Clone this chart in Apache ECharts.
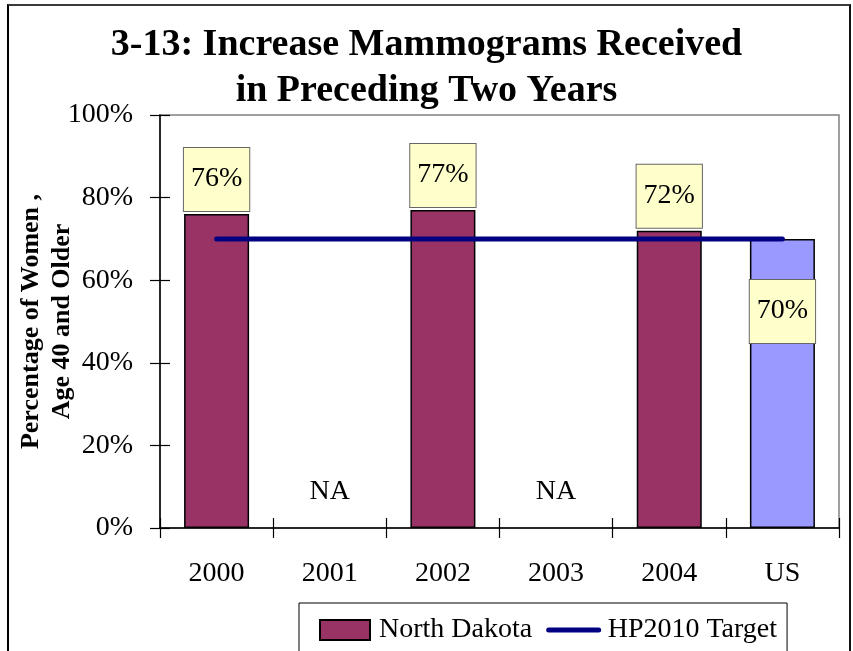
<!DOCTYPE html>
<html><head><meta charset="utf-8">
<script src="https://cdn.jsdelivr.net/npm/echarts@6/dist/echarts.min.js"></script>
<style>
html,body{margin:0;padding:0;background:#fff;}
#c{width:853px;height:651px;position:absolute;left:0;top:0;}
#frame{position:absolute;left:7px;top:4px;width:840px;height:700px;border-left:2px solid #000;border-top:2px solid #3a3a3a;border-right:2px solid #111;pointer-events:none;}
</style></head><body>
<div id="c"></div><div id="frame"></div>
<script>
const categories = ['2000', '2001', '2002', '2003', '2004', 'US'];
const northDakota = [76, null, 77, null, 72, 70];
const hp2010Target = [70, 70, 70, 70, 70, 70];
const yMin = 0, yMax = 100, yStep = 20;
const titleLines = ['3-13: Increase Mammograms Received', 'in Preceding Two Years'];
const yName = ['Percentage of Women ,', 'Age 40 and Older'];

const FONT = '"Liberation Serif", "Times New Roman", serif';

const barData = northDakota.map((v, i) => {
  if (v === null) {
    return { value: 0, itemStyle: { borderWidth: 0 },
      label: { formatter: 'NA', position: 'top', distance: 19, backgroundColor: 'transparent',
               borderWidth: 0, padding: 0 } };
  }
  if (categories[i] === 'US') {
    return { value: v, itemStyle: { color: '#9999FF' }, label: { position: 'insideTop', distance: 41 } };
  }
  return v;
});

const chart = echarts.init(document.getElementById('c'), null, { renderer: 'canvas' });
chart.setOption({
  backgroundColor: '#fff',
  animation: false,
  title: {
    text: titleLines.join('\n'),
    left: 'center', top: 22, padding: [0, 0, 0, 9],
    textStyle: { fontFamily: FONT, fontWeight: 'bold', fontSize: 38, lineHeight: 46, color: '#000' }
  },
  grid: { left: 160, right: 14, top: 115, bottom: 123, show: true, borderColor: '#808080', borderWidth: 1.5,
          backgroundColor: 'transparent', containLabel: false, outerBoundsMode: 'none' },
  legend: {
    left: 299, top: 603,
    data: [
      { name: 'North Dakota', icon: 'rect' },
      { name: 'HP2010 Target', itemStyle: { opacity: 0 }, lineStyle: { width: 5, color: '#000080', cap: 'round' } }
    ],
    itemWidth: 50, itemHeight: 20, itemGap: 14,
    padding: [12, 10, 30, 20],
    borderColor: '#000', borderWidth: 1,
    textStyle: { fontFamily: FONT, fontSize: 28, color: '#000', lineHeight: 30, padding: [0, 0, 0, 4] }
  },
  xAxis: [{
    type: 'category', data: categories, position: 'bottom',
    axisLine: { lineStyle: { color: '#000', width: 1.5 } },
    axisTick: { show: true, length: 10, lineStyle: { color: '#000', width: 1.2 } },
    axisLabel: { fontFamily: FONT, fontSize: 28, color: '#000', margin: 32 }
  }, {
    type: 'category', data: categories, position: 'bottom',
    axisLine: { show: false },
    axisTick: { show: true, inside: true, length: 10, lineStyle: { color: '#000', width: 1.2 } },
    axisLabel: { show: false }, splitLine: { show: false }
  }],
  yAxis: [{
    type: 'value', min: yMin, max: yMax, interval: yStep, position: 'left',
    name: yName.join('\n'), nameLocation: 'middle', nameRotate: 90, nameGap: 82, nameMoveOverlap: false,
    nameTextStyle: { fontFamily: FONT, fontWeight: 'bold', fontSize: 26, lineHeight: 31, color: '#000' },
    axisLine: { show: true, lineStyle: { color: '#000', width: 1.5 } },
    axisTick: { show: true, length: 10, lineStyle: { color: '#000', width: 1.2 } },
    axisLabel: { fontFamily: FONT, fontSize: 28, color: '#000', margin: 27, formatter: '{value}%' },
    splitLine: { show: false }
  }, {
    type: 'value', min: yMin, max: yMax, interval: yStep, position: 'left',
    axisLine: { show: false },
    axisTick: { show: true, inside: true, length: 10, lineStyle: { color: '#000', width: 1.2 } },
    axisLabel: { show: false }, splitLine: { show: false }
  }],
  series: [{
    name: 'North Dakota', type: 'bar', data: barData, barWidth: 65,
    xAxisIndex: 0, yAxisIndex: 0,
    itemStyle: { color: '#993366', borderColor: '#000', borderWidth: 1.5 },
    label: {
      show: true, position: 'top', distance: 3, formatter: '{c}%',
      fontFamily: FONT, fontSize: 28, color: '#000', lineHeight: 34,
      backgroundColor: '#FFFFCC', borderColor: '#666', borderWidth: 1, padding: [14, 7, 15, 7]
    },
    z: 2
  }, {
    name: 'HP2010 Target', type: 'line', data: hp2010Target,
    xAxisIndex: 0, yAxisIndex: 0,
    symbol: 'none', color: '#000080',
    lineStyle: { color: '#000080', width: 5, cap: 'round' },
    z: 3
  }]
});
</script>
</body></html>
